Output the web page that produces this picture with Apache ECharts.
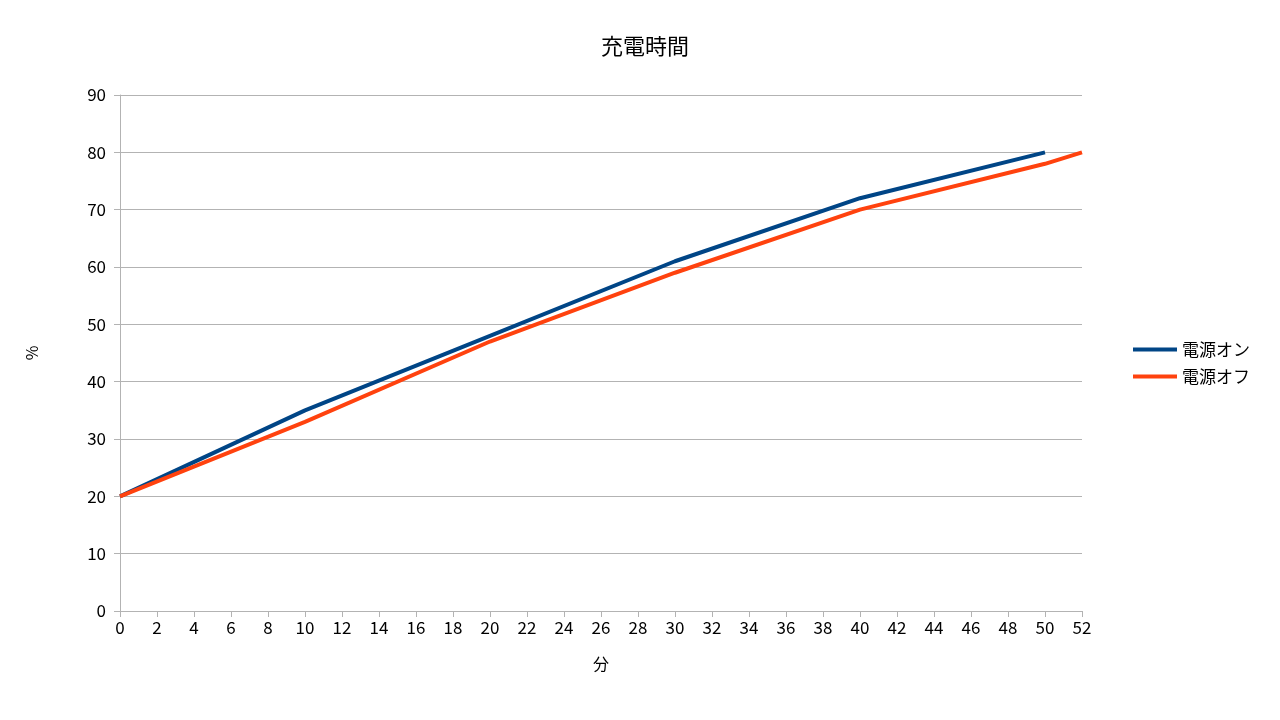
<!DOCTYPE html>
<html><head><meta charset="utf-8">
<script src="https://cdn.jsdelivr.net/npm/echarts@6/dist/echarts.min.js"></script>
<style>html,body{margin:0;background:#fff}#c{width:1280px;height:720px}</style>
</head><body><div id="c"></div>
<script>
const onX = [0, 10, 20, 30, 40, 50];
const onY = [20, 35, 48, 61, 72, 80];
const offX = [0, 10, 20, 30, 40, 50, 52];
const offY = [20, 33, 47, 59, 70, 78, 80];
const font = '"Noto Sans CJK JP", "Liberation Sans", sans-serif';
const chart = echarts.init(document.getElementById('c'));
chart.setOption({
  animation: false,
  title: {text: '充電時間', left: 640, top: 30, textAlign: 'center',
    textStyle: {fontFamily: font, fontSize: 22, fontWeight: 'normal', color: '#000'}},
  grid: {left: 120, right: 198, top: 95, bottom: 109},
  legend: {orient: 'vertical', left: 1128, top: 336, itemWidth: 44, itemHeight: 4, itemGap: 10,
    icon: 'rect', textStyle: {fontFamily: font, fontSize: 17, color: '#000'},
    data: ['電源オン', '電源オフ']},
  xAxis: {type: 'value', min: 0, max: 52, interval: 2, name: '分', nameLocation: 'middle', nameGap: 45,
    nameTextStyle: {fontFamily: font, fontSize: 16, color: '#000'},
    axisLine: {lineStyle: {color: '#b3b3b3'}}, axisTick: {show: true, length: 6, inside: false, lineStyle: {color: '#b3b3b3'}},
    axisLabel: {fontFamily: font, fontSize: 17, color: '#000'},
    splitLine: {show: false}},
  yAxis: {type: 'value', min: 0, max: 90, interval: 10, name: '%', nameLocation: 'middle', nameGap: 80,
    nameTextStyle: {fontFamily: font, fontSize: 16, color: '#000'},
    axisLine: {show: true, lineStyle: {color: '#b3b3b3'}}, axisTick: {show: true, length: 6, lineStyle: {color: '#b3b3b3'}},
    axisLabel: {fontFamily: font, fontSize: 17, color: '#000', margin: 14},
    splitLine: {lineStyle: {color: '#b3b3b3'}}},
  series: [
    {name: '電源オン', type: 'line', showSymbol: false, color: '#004586', lineStyle: {width: 4},
     data: onX.map((x, i) => [x, onY[i]])},
    {name: '電源オフ', type: 'line', showSymbol: false, color: '#ff420e', lineStyle: {width: 4},
     data: offX.map((x, i) => [x, offY[i]])}
  ]
});
</script></body></html>
